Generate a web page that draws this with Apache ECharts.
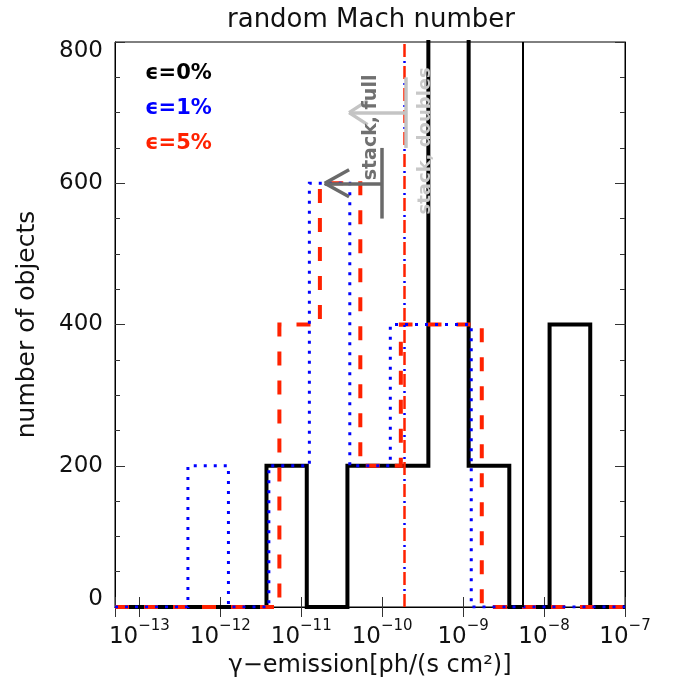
<!DOCTYPE html>
<html>
<head>
<meta charset="utf-8">
<script src="https://cdn.jsdelivr.net/npm/echarts@6/dist/echarts.min.js"></script>
<style>
  html, body { margin: 0; padding: 0; background: #fff; }
  #chart { width: 676px; height: 687px; }
</style>
</head>
<body>
<div id="chart"></div>
<script>
// axis range (log x) and y ticks
const xRange = [5e-14, 1e-7]
const yTicks = [0, 200, 400, 600, 800]

// histogram bin edges (ph/(s cm^2)) and counts
const eps0Edges = [3.72e-12, 1.17e-11, 3.72e-11, 1.17e-10, 3.72e-10, 1.17e-9, 3.72e-9, 1.17e-8, 3.72e-8]
const eps0Counts = [200, 0, 200, 200, 1000, 200, 0, 400]
const eps1Edges = [3.98e-13, 1.26e-12, 3.98e-12, 1.26e-11, 3.98e-11, 1.26e-10, 3.98e-10, 1.26e-9]
const eps1Counts = [200, 0, 200, 600, 200, 400, 400]
const eps5Edges = [5.37e-12, 1.70e-11, 5.37e-11, 1.70e-10, 5.37e-10, 1.70e-9]
const eps5Counts = [400, 600, 200, 400, 400]

// vertical marker lines
const eps0Mark = 5.5e-9
const eps1Mark = 1.86e-10
const eps5Mark = 1.86e-10

// "stack, full" arrow: [tipX, barX, headX], [y, barLo, barHi, headDy]
const fullArrowX = [1.95e-11, 9.77e-11, 3.9e-11]
const fullArrowY = [600, 550, 650, 19]
const fullLabel = [7.2e-11, 679]
// "stack, doubles" arrow
const dblArrowX = [3.9e-11, 1.97e-10, 6.6e-11]
const dblArrowY = [700, 650, 750, 17]
const dblLabel = [3.45e-10, 660]

const FONT = 'DejaVu Sans'

function steps(edges, counts) {
  const pts = [[xRange[0], 0], [edges[0], 0]]
  counts.forEach((c, i) => {
    pts.push([edges[i], c], [edges[i + 1], c])
  })
  pts.push([edges[edges.length - 1], 0], [xRange[1], 0])
  return pts
}

function arrowLines(xs, ys) {
  const [tip, bar, head] = xs
  const [y, lo, hi, dy] = ys
  return [
    [{ coord: [tip, y] }, { coord: [bar, y] }],
    [{ coord: [bar, lo] }, { coord: [bar, hi] }],
    [{ coord: [tip, y] }, { coord: [head, y + dy] }],
    [{ coord: [tip, y] }, { coord: [head, y - dy] }]
  ]
}

function vline(x, color, width, type, offset) {
  return {
    silent: true,
    symbol: ['none', 'none'],
    label: { show: false },
    emphasis: { disabled: true },
    lineStyle: { color, width, type, dashOffset: offset || 0, opacity: 1 },
    data: [[{ coord: [x, yTicks[0]] }, { coord: [x, yTicks[yTicks.length - 1]] }]]
  }
}

const chart = echarts.init(document.getElementById('chart'), null, { renderer: 'canvas' })

const xCommon = {
  type: 'log',
  logBase: 10,
  min: xRange[0],
  max: xRange[1],
  splitLine: { show: false },
  axisLine: { show: true, lineStyle: { color: '#000', width: 1 } },
  axisTick: { show: true, inside: true, length: 10, lineStyle: { color: '#333', width: 1 } }
}
const yCommon = {
  type: 'value',
  min: yTicks[0],
  max: yTicks[yTicks.length - 1],
  interval: 200,
  splitLine: { show: false },
  axisLine: { show: true, lineStyle: { color: '#000', width: 1 } },
  axisTick: { show: true, inside: true, length: 10, lineStyle: { color: '#333', width: 1 } },
  minorTick: { show: true, splitNumber: 4, length: 5, lineStyle: { color: '#333', width: 1 } }
}

chart.setOption({
  animation: false,
  backgroundColor: '#fff',
  title: {
    text: 'random Mach number',
    left: 366,
    top: 2,
    textAlign: 'center',
    textStyle: { fontFamily: FONT, fontWeight: 'normal', fontSize: 26, color: '#111' }
  },
  legend: {
    orient: 'vertical',
    left: 135,
    top: 58,
    icon: 'none',
    itemWidth: 0,
    itemHeight: 14,
    itemGap: 14,
    selectedMode: false,
    textStyle: { fontFamily: FONT, fontWeight: 'bold', fontSize: 21 },
    data: [
      { name: 'ϵ=0%', textStyle: { color: '#000' } },
      { name: 'ϵ=1%', textStyle: { color: '#0000ff' } },
      { name: 'ϵ=5%', textStyle: { color: '#ff2200' } }
    ]
  },
  grid: {
    left: 115, right: 51, top: 42, bottom: 80,
    show: true, borderColor: '#000', borderWidth: 1,
    outerBoundsMode: 'none'
  },
  xAxis: [
    {
      ...xCommon,
      position: 'bottom',
      name: 'γ−emission[ph/(s cm²)]',
      nameLocation: 'middle',
      nameGap: 45,
      nameTextStyle: { fontFamily: FONT, fontSize: 24, color: '#111' },
      axisLabel: {
        margin: 12,
        formatter: (v) => {
          const e = Math.log10(v)
          if (Math.abs(e - Math.round(e)) > 0.01) return ''
          return '{b|10}{s|−' + Math.abs(Math.round(e)) + '}'
        },
        rich: {
          b: { fontFamily: FONT, fontSize: 23, color: '#111', verticalAlign: 'bottom', lineHeight: 30 },
          s: { fontFamily: FONT, fontSize: 15, color: '#111', verticalAlign: 'top', lineHeight: 30 }
        }
      }
    },
    { ...xCommon, position: 'top', axisLabel: { show: false } }
  ],
  yAxis: [
    {
      ...yCommon,
      position: 'left',
      name: 'number of objects',
      nameLocation: 'middle',
      nameGap: 75,
      nameTextStyle: { fontFamily: FONT, fontSize: 25, color: '#111' },
      axisLabel: {
        margin: 12,
        formatter: (v) => {
          if (v === yTicks[yTicks.length - 1]) return '{t|' + v + '}'
          if (v === yTicks[0]) return '{d|' + v + '}'
          return '{n|' + v + '}'
        },
        rich: {
          n: { fontFamily: FONT, fontSize: 23, color: '#111' },
          t: { fontFamily: FONT, fontSize: 23, color: '#111', padding: [18, 0, 0, 0] },
          d: { fontFamily: FONT, fontSize: 23, color: '#111', padding: [0, 0, 16, 0] }
        }
      }
    },
    { ...yCommon, position: 'right', axisLabel: { show: false } }
  ],
  series: [
    {
      name: 'ϵ=0%',
      type: 'line',
      data: steps(eps0Edges, eps0Counts),
      symbol: 'none',
      clip: true,
      z: 2,
      itemStyle: { color: '#000' },
      lineStyle: { color: '#000', width: 4, join: 'miter', cap: 'butt' },
      markLine: vline(eps0Mark, '#000', 2, 'solid')
    },
    {
      name: 'ϵ=5%',
      type: 'line',
      data: steps(eps5Edges, eps5Counts),
      symbol: 'none',
      clip: true,
      z: 3,
      itemStyle: { color: '#ff2200' },
      lineStyle: { color: '#ff2200', width: 4, type: [14, 15], join: 'miter', cap: 'butt' },
      markLine: vline(eps5Mark, '#ff2200', 2.5, [13, 9])
    },
    {
      name: 'ϵ=1%',
      type: 'line',
      data: steps(eps1Edges, eps1Counts),
      symbol: 'none',
      clip: true,
      z: 4,
      itemStyle: { color: '#0000ff' },
      lineStyle: { color: '#0000ff', width: 3, type: [3, 7], join: 'miter', cap: 'butt' },
      markLine: vline(eps1Mark, '#0000ff', 2.5, [2, 20], -16)
    },
    {
      name: 'stack, full',
      type: 'line',
      data: [],
      z: 5,
      markLine: {
        silent: true,
        symbol: ['none', 'none'],
        label: { show: false },
        emphasis: { disabled: true },
        lineStyle: { color: '#6a6a6a', width: 3.5, type: 'solid' },
        data: arrowLines(fullArrowX, fullArrowY)
      }
    },
    {
      name: 'stack, doubles',
      type: 'line',
      data: [],
      z: 5,
      markLine: {
        silent: true,
        symbol: ['none', 'none'],
        label: { show: false },
        emphasis: { disabled: true },
        lineStyle: { color: '#c4c4c4', width: 3.5, type: 'solid' },
        data: arrowLines(dblArrowX, dblArrowY)
      }
    }
  ]
})

const pFull = chart.convertToPixel({ gridIndex: 0 }, fullLabel)
const pDbl = chart.convertToPixel({ gridIndex: 0 }, dblLabel)
chart.setOption({
  graphic: [
    {
      type: 'text', x: pFull[0], y: pFull[1], rotation: Math.PI / 2, z: 10,
      style: { text: 'stack, full', fill: '#707070', font: 'bold 19px "DejaVu Sans"', align: 'center', verticalAlign: 'middle' }
    },
    {
      type: 'text', x: pDbl[0], y: pDbl[1], rotation: Math.PI / 2, z: 10,
      style: { text: 'stack, doubles', fill: '#c8c8c8', font: 'bold 18px "DejaVu Sans"', align: 'center', verticalAlign: 'middle' }
    }
  ]
})

window.addEventListener('resize', () => chart.resize())
</script>
</body>
</html>
